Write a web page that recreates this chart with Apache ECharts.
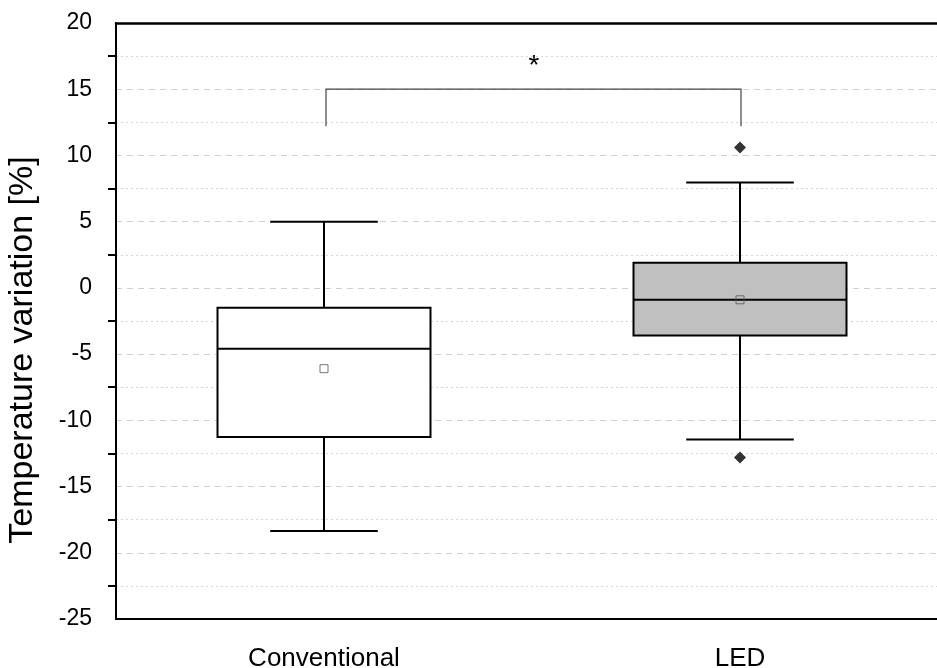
<!DOCTYPE html>
<html>
<head>
<meta charset="utf-8">
<script src="https://cdn.jsdelivr.net/npm/echarts@6/dist/echarts.min.js"></script>
<style>
  html, body { margin: 0; padding: 0; background: #fff; }
  #main { width: 937px; height: 668px; }
</style>
</head>
<body>
<div id="main"></div>
<script>
// box statistics
const categories = ['Conventional', 'LED']
const whiskerLow = [-18.35, -11.45]
const q1 = [-11.25, -3.6]
const median = [-4.6, -0.9]
const q3 = [-1.5, 1.9]
const whiskerHigh = [5.0, 7.95]
const means = [-6.1, -0.9]
const outliers = [[1, 10.6], [1, -12.8]]
const yTicks = [-25, -20, -15, -10, -5, 0, 5, 10, 15, 20]

// significance bracket
const bracketTop = 15
const bracketBottom = 12.2
const starY = 16.7

const boxData = categories.map((c, i) => [i, whiskerLow[i], q1[i], median[i], q3[i], whiskerHigh[i]])
const fills = ['#ffffff', '#c0c0c0']

const chart = echarts.init(document.getElementById('main'))

const option = {
  animation: false,
  grid: {
    left: 116, top: 23, width: 832, bottom: 49,
    outerBoundsMode: 'none', containLabel: false
  },
  xAxis: [
    {
      type: 'category',
      data: categories,
      axisLine: { onZero: false, lineStyle: { color: '#000', width: 2 } },
      axisTick: { alignWithLabel: true, length: 11, lineStyle: { color: '#000', width: 2 } },
      axisLabel: { color: '#000', fontSize: 26, fontFamily: 'Liberation Sans', margin: 27 },
      splitLine: { show: false }
    },
    {
      // top frame line
      type: 'category',
      position: 'top',
      data: categories,
      axisLine: { onZero: false, lineStyle: { color: '#000', width: 2.5 } },
      axisTick: { show: false },
      axisLabel: { show: false },
      splitLine: { show: false },
      z: 10
    }
  ],
  yAxis: {
    type: 'value',
    min: -25, max: 20, interval: 5,
    name: 'Temperature variation [%]',
    nameLocation: 'middle',
    nameGap: 76,
    nameTextStyle: { color: '#000', fontSize: 34, fontFamily: 'Liberation Sans', padding: [0, 58, 0, 0] },
    axisLine: { show: true, lineStyle: { color: '#000', width: 2 } },
    axisTick: { length: 13, lineStyle: { color: '#000', width: 2 } },
    minorTick: { show: true, splitNumber: 2, length: 8, lineStyle: { color: '#000', width: 2 } },
    axisLabel: {
      color: '#000', fontSize: 23, fontFamily: 'Liberation Sans', margin: 24,
      formatter: v => yTicks.includes(v) ? String(v) : ''
    },
    splitLine: { show: true, lineStyle: { color: '#cfcfcf', type: [6, 5], width: 1 } },
    minorSplitLine: { show: true, lineStyle: { color: '#d6d6d6', type: [2, 3], width: 1 } }
  },
  series: [
    {
      type: 'custom',
      data: boxData,
      encode: { x: 0, y: [1, 2, 3, 4, 5] },
      renderItem: function (params, api) {
        const i = api.value(0)
        const lo = api.coord([i, api.value(1)])
        const b1 = api.coord([i, api.value(2)])
        const md = api.coord([i, api.value(3)])
        const b3 = api.coord([i, api.value(4)])
        const hi = api.coord([i, api.value(5)])
        const bw = api.size([1, 0])[0] * 0.512
        const cw = bw * 0.505
        const x = lo[0]
        const line = { stroke: '#000', lineWidth: 2 }
        return {
          type: 'group',
          children: [
            { type: 'line', shape: { x1: x, y1: hi[1], x2: x, y2: b3[1] }, style: line },
            { type: 'line', shape: { x1: x, y1: b1[1], x2: x, y2: lo[1] }, style: line },
            { type: 'line', shape: { x1: x - cw / 2, y1: hi[1], x2: x + cw / 2, y2: hi[1] }, style: line },
            { type: 'line', shape: { x1: x - cw / 2, y1: lo[1], x2: x + cw / 2, y2: lo[1] }, style: line },
            { type: 'rect', shape: { x: x - bw / 2, y: b3[1], width: bw, height: b1[1] - b3[1] },
              style: { fill: fills[i], stroke: '#000', lineWidth: 2 } },
            { type: 'line', shape: { x1: x - bw / 2, y1: md[1], x2: x + bw / 2, y2: md[1] }, style: line }
          ]
        }
      },
      z: 2
    },
    {
      type: 'scatter',
      data: categories.map((c, i) => [i, means[i]]),
      symbol: 'rect',
      symbolSize: 8,
      itemStyle: { color: 'rgba(255,255,255,0)', borderColor: '#555', borderWidth: 1 },
      z: 5
    },
    {
      type: 'scatter',
      data: outliers,
      symbol: 'diamond',
      symbolSize: [12, 12],
      itemStyle: { color: '#000' },
      z: 5
    },
    {
      type: 'custom',
      data: [[0, 1]],
      renderItem: function (params, api) {
        const a = api.coord([0, bracketTop])
        const b = api.coord([1, bracketTop])
        const a0 = api.coord([0, bracketBottom])
        const s = api.coord([0, starY])
        const style = { stroke: '#444', lineWidth: 1.2 }
        return {
          type: 'group',
          children: [
            { type: 'polyline', shape: { points: [[a0[0] + 2, a0[1]], [a[0] + 2, a[1]], [b[0] + 1, b[1]], [b[0] + 1, a0[1]]] }, style: Object.assign({ fill: null }, style) },
            { type: 'text', style: { text: '*', x: (a[0] + b[0]) / 2 + 2, y: s[1], fill: '#000', fontSize: 28, fontFamily: 'Liberation Sans', align: 'center', verticalAlign: 'middle' } }
          ]
        }
      },
      z: 6
    }
  ]
}

chart.setOption(option)
</script>
</body>
</html>
